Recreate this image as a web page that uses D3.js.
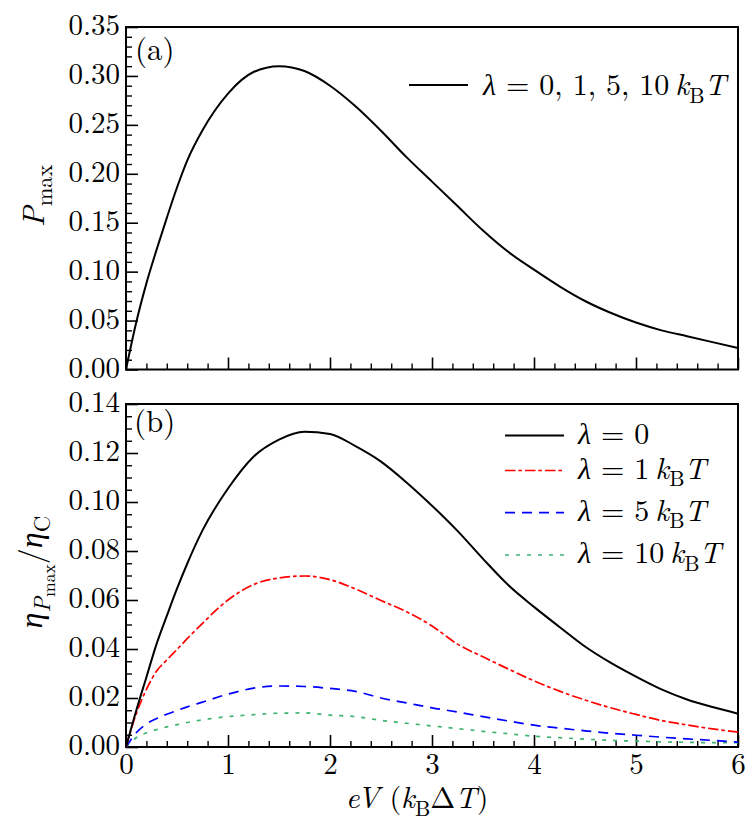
<!DOCTYPE html>
<html>
<head>
<meta charset="utf-8">
<script src="https://cdn.jsdelivr.net/npm/d3@7"></script>
<style>
  body { margin: 0; background: #fff; }
  svg text { font-family: "Latin Modern Roman", "CMU Serif", "Liberation Serif", serif; fill: #000; }
  .domain { display: none; }
</style>
</head>
<body>
<div id="chart"></div>
<script>
// eV in units of kB*dT
const xs = [0, 0.1, 0.2, 0.3, 0.4, 0.5, 0.6, 0.75, 1.0, 1.25, 1.5, 1.75, 2.0, 2.25, 2.5, 2.75,
            3.0, 3.25, 3.5, 3.75, 4.0, 4.25, 4.5, 4.75, 5.0, 5.25, 5.5, 5.75, 6.0];

// panel (a): maximum power, same for all lambda
const pMax = [0, 0.048, 0.088, 0.1225, 0.155, 0.186, 0.2135, 0.2445, 0.282, 0.304, 0.310, 0.305, 0.290, 0.269, 0.244, 0.217,
              0.192, 0.167, 0.142, 0.120, 0.102, 0.085, 0.070, 0.058, 0.048, 0.040, 0.034, 0.028, 0.022];

// panel (b): efficiency at max power / Carnot
const etaL0 = [0, 0.0148, 0.0285, 0.0421, 0.0535, 0.0646, 0.0748, 0.0884, 0.1055, 0.1185, 0.1255, 0.1287, 0.1278, 0.1228, 0.1165, 0.108,
               0.0985, 0.0882, 0.0768, 0.066, 0.0572, 0.049, 0.041, 0.0344, 0.0287, 0.0235, 0.0194, 0.0163, 0.0136];
const etaL1 = [0, 0.0135, 0.0235, 0.0310, 0.0355, 0.0398, 0.0442, 0.0505, 0.0600, 0.0663, 0.0690, 0.0698, 0.0683, 0.0645, 0.0598, 0.0552,
               0.0494, 0.0420, 0.0368, 0.0318, 0.0270, 0.0228, 0.0192, 0.0160, 0.0133, 0.0108, 0.0090, 0.0074, 0.0061];
const etaL5 = [0, 0.0058, 0.0094, 0.0116, 0.0134, 0.0149, 0.0164, 0.0183, 0.0216, 0.0240, 0.0249, 0.0247, 0.0239, 0.0227, 0.0200, 0.0180,
               0.0160, 0.0143, 0.0124, 0.0106, 0.0089, 0.0077, 0.0066, 0.0056, 0.0048, 0.0040, 0.0033, 0.0027, 0.0020];
const etaL10 = [0, 0.0038, 0.0058, 0.0071, 0.0082, 0.0091, 0.0100, 0.0111, 0.0124, 0.0132, 0.0138, 0.0139, 0.0130, 0.0124, 0.0109, 0.0097,
                0.0086, 0.0075, 0.0064, 0.0054, 0.0044, 0.0038, 0.0032, 0.0027, 0.0024, 0.0021, 0.0019, 0.0018, 0.0018];

const xTicks = [0, 1, 2, 3, 4, 5, 6];
const yTicksA = [0, 0.05, 0.10, 0.15, 0.20, 0.25, 0.30, 0.35];
const yTicksB = [0, 0.02, 0.04, 0.06, 0.08, 0.10, 0.12, 0.14];

const W = 755, H = 830;
const svg = d3.select("#chart").append("svg").attr("width", W).attr("height", H);

const left = 126, right = 738;
const panelA = { top: 27, bottom: 369.5 };
const panelB = { top: 404, bottom: 747 };

const x = d3.scaleLinear().domain([0, 6]).range([left, right]);
const yA = d3.scaleLinear().domain([0, 0.35]).range([panelA.bottom, panelA.top]);
const yB = d3.scaleLinear().domain([0, 0.14]).range([panelB.bottom, panelB.top]);

// text with italic parts and sub/sub-sub scripts
function rich(textSel, parts, fs) {
    let cur = 0;
    parts.forEach(p => {
        const lvl = p.l || 0;
        const off = [0, 0.25 * fs, 0.42 * fs][lvl];
        const size = [1, 0.72, 0.55][lvl] * fs;
        textSel.append("tspan")
            .attr("dy", off - cur)
            .attr("font-size", size)
            .attr("font-style", p.i ? "italic" : "normal")
            .text(p.t);
        cur = off;
    });
}

function drawAxes(g, y, yTicks, yMinorStep, yFmt, showXLabels) {
    const minorX = d3.range(0, 6.0001, 0.2).filter(v => Math.abs(v - Math.round(v)) > 1e-6);
    const yMax = y.domain()[1];
    const minorY = d3.range(0, yMax + 1e-9, yMinorStep).filter(v => !yTicks.some(t => Math.abs(t - v) < 1e-9));
    const bottom = y.range()[0];

    // x ticks (inside)
    const gx = g.append("g").attr("transform", `translate(0,${bottom})`)
        .call(d3.axisBottom(x).tickValues(xTicks).tickSize(-12).tickFormat(showXLabels ? d3.format("d") : ""));
    gx.selectAll("line").attr("stroke-width", 1.6);
    gx.selectAll("text").attr("y", 27).attr("dy", 0).attr("font-size", 29);
    g.append("g").attr("transform", `translate(0,${bottom})`)
        .call(d3.axisBottom(x).tickValues(minorX).tickSize(-6).tickFormat(""))
        .selectAll("line").attr("stroke-width", 1.4);

    // y ticks (inside)
    const gy = g.append("g").attr("transform", `translate(${left},0)`)
        .call(d3.axisLeft(y).tickValues(yTicks).tickSize(-12).tickFormat(yFmt));
    gy.selectAll("line").attr("stroke-width", 1.6);
    gy.selectAll("text").attr("x", -6).attr("dy", 7.5).attr("font-size", 29);
    g.append("g").attr("transform", `translate(${left},0)`)
        .call(d3.axisLeft(y).tickValues(minorY).tickSize(-6).tickFormat(""))
        .selectAll("line").attr("stroke-width", 1.4);

    svg.selectAll(".tick text").attr("font-family", null);

    // frame
    g.append("rect")
        .attr("x", left).attr("y", y.range()[1])
        .attr("width", right - left).attr("height", bottom - y.range()[1])
        .attr("fill", "none").attr("stroke", "#000").attr("stroke-width", 2);
}

const line = (y, vals) => d3.line().x((d, i) => x(xs[i])).y(d => y(d)).curve(d3.curveMonotoneX)(vals);

// ---------- panel (a) ----------
const gA = svg.append("g");
drawAxes(gA, yA, yTicksA, 0.01, d3.format(".2f"), false);

gA.append("path").attr("d", line(yA, pMax))
    .attr("fill", "none").attr("stroke", "#000").attr("stroke-width", 2);

gA.append("text").attr("x", 135).attr("y", 60).attr("font-size", 31).text("(a)");

gA.append("line").attr("x1", 409).attr("x2", 468).attr("y1", 85).attr("y2", 85)
    .attr("stroke", "#000").attr("stroke-width", 2);
rich(gA.append("text").attr("x", 483).attr("y", 95), [
    { t: "λ", i: 1 }, { t: " = 0, 1, 5, 10\u2009" }, { t: "k", i: 1 }, { t: "B", l: 1 }, { t: "T", i: 1 }
], 30);

rich(gA.append("text").attr("transform", "translate(44,196) rotate(-90)").attr("text-anchor", "middle"), [
    { t: "P", i: 1 }, { t: "max", l: 1 }
], 31);

// ---------- panel (b) ----------
const gB = svg.append("g");
drawAxes(gB, yB, yTicksB, 0.005, d3.format(".2f"), true);

const series = [
    { vals: etaL0, color: "#000000", dash: null, w: 2, label: [{ t: "λ", i: 1 }, { t: " = 0" }], ly: 435.5 },
    { vals: etaL1, color: "#ff0000", dash: "10.5,2.8,3.7,3", w: 1.7,
      label: [{ t: "λ", i: 1 }, { t: " = 1\u2009" }, { t: "k", i: 1 }, { t: "B", l: 1 }, { t: "T", i: 1 }], ly: 470.5 },
    { vals: etaL5, color: "#0000ff", dash: "10,7", w: 1.7,
      label: [{ t: "λ", i: 1 }, { t: " = 5\u2009" }, { t: "k", i: 1 }, { t: "B", l: 1 }, { t: "T", i: 1 }], ly: 512.7 },
    { vals: etaL10, color: "#3cb371", dash: "4,7", w: 1.7,
      label: [{ t: "λ", i: 1 }, { t: " = 10\u2009" }, { t: "k", i: 1 }, { t: "B", l: 1 }, { t: "T", i: 1 }], ly: 555 }
];

// draw from back to front so the black curve sits on top
series.slice().reverse().forEach(s => {
    gB.append("path").attr("d", line(yB, s.vals))
        .attr("fill", "none").attr("stroke", s.color).attr("stroke-width", s.w)
        .attr("stroke-dasharray", s.dash);
});

series.forEach(s => {
    gB.append("line").attr("x1", 505).attr("x2", 564).attr("y1", s.ly).attr("y2", s.ly)
        .attr("stroke", s.color).attr("stroke-width", s.w).attr("stroke-dasharray", s.dash);
    rich(gB.append("text").attr("x", 578).attr("y", s.ly + 8), s.label, 30);
});

gB.append("text").attr("x", 134).attr("y", 432).attr("font-size", 31).text("(b)");

rich(gB.append("text").attr("transform", "translate(42,572) rotate(-90)").attr("text-anchor", "middle"), [
    { t: "η", i: 1 }, { t: "P", i: 1, l: 1 }, { t: "max", l: 2 }, { t: "/" }, { t: "η", i: 1 }, { t: "C", l: 1 }
], 32);

// x label
rich(svg.append("text").attr("x", 417).attr("y", 808).attr("text-anchor", "middle"), [
    { t: "eV", i: 1 }, { t: " (" }, { t: "k", i: 1 }, { t: "B", l: 1 }, { t: "Δ" }, { t: "T", i: 1 }, { t: ")" }
], 30);
</script>
</body>
</html>
